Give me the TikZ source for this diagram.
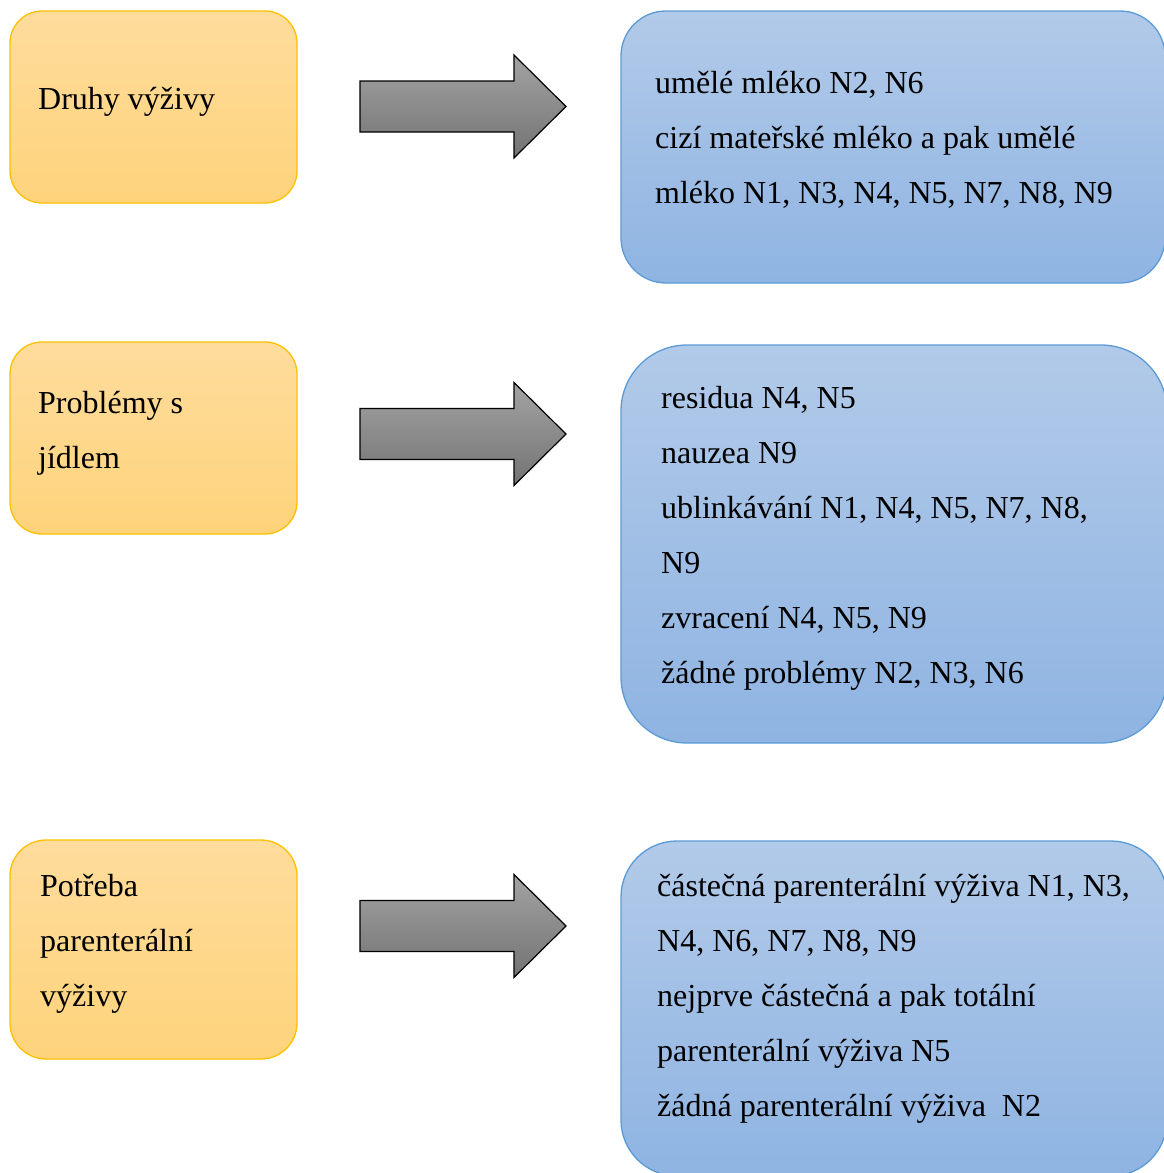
\documentclass[tikz,border=0pt]{standalone}
\usepackage{fontspec}
\setmainfont{Liberation Serif}

\definecolor{goldTop}{HTML}{FEDC9C}
\definecolor{goldBot}{HTML}{FED37B}
\definecolor{goldLine}{HTML}{FFC000}
\definecolor{blueTop}{HTML}{B2CAE9}
\definecolor{blueBot}{HTML}{8FB4E2}
\definecolor{blueLine}{HTML}{5B9BD5}
\definecolor{arrowTop}{HTML}{A3A3A3}
\definecolor{arrowBot}{HTML}{737373}

\begin{document}
\begin{tikzpicture}[x=1pt,y=-1pt,
  topic/.style={draw=goldLine, line width=1.3pt, top color=goldTop, bottom color=goldBot,
    rectangle, inner sep=0pt},
  detail/.style={draw=blueLine, line width=1.3pt, top color=blueTop, bottom color=blueBot,
    rectangle, inner sep=0pt},
  txt/.style={anchor=base west, inner sep=0pt, font=\fontsize{32}{55}\selectfont},
  blockarrow/.style={draw=black, line width=1.2pt, line join=miter,
    top color=arrowTop, bottom color=arrowBot}]

\clip (0,0) rectangle (1164,1173);
\useasboundingbox (0,0) rectangle (1164,1173);

% left column: topics
\node[topic, rounded corners=32pt, minimum width=287pt, minimum height=192pt] (q1) at (153.5,107) {};
\node[topic, rounded corners=32pt, minimum width=287pt, minimum height=192pt] (q2) at (153.5,438) {};
\node[topic, rounded corners=36pt, minimum width=287pt, minimum height=219pt] (q3) at (153.5,949.5) {};

% right column: answers, running up to the right edge
\node[detail, rounded corners=45pt, minimum width=544pt, minimum height=272pt] (a1) at (893,147) {};
\node[detail, rounded corners=66pt, minimum width=546pt, minimum height=398pt] (a2) at (894,544) {};
\node[detail, rounded corners=56pt, minimum width=546pt, minimum height=335pt] (a3) at (894,1008.5) {};

% block arrows between the columns
\foreach \c in {106.5,434,926}{
  \draw[blockarrow] (360,\c-25.5) -- (514,\c-25.5) -- (514,\c-51.5) -- (566,\c)
    -- (514,\c+51.5) -- (514,\c+25.5) -- (360,\c+25.5) -- cycle;
}

% topic texts
\node[txt] (q1t) at (38,109) {Druhy výživy};
\node[txt] (q2t) at (38,413) {\parbox[t]{250pt}{Problémy s\\jídlem}};
\node[txt] (q3t) at (40,896) {\parbox[t]{250pt}{Potřeba\\parenterální\\výživy}};

% answer texts
\node[txt] (a1t) at (655,93) {\parbox[t]{500pt}{umělé mléko N2, N6\\cizí mateřské mléko a pak umělé\\mléko N1, N3, N4, N5, N7, N8, N9}};
\node[txt] (a2t) at (661,408) {\parbox[t]{500pt}{residua N4, N5\\nauzea N9\\ublinkávání N1, N4, N5, N7, N8,\\N9\\zvracení N4, N5, N9\\žádné problémy N2, N3, N6}};
\node[txt] (a3t) at (657,896) {\parbox[t]{500pt}{částečná parenterální výživa N1, N3,\\N4, N6, N7, N8, N9\\nejprve částečná a pak totální\\parenterální výživa N5\\žádná parenterální výživa~\ N2}};
\end{tikzpicture}
\end{document}
